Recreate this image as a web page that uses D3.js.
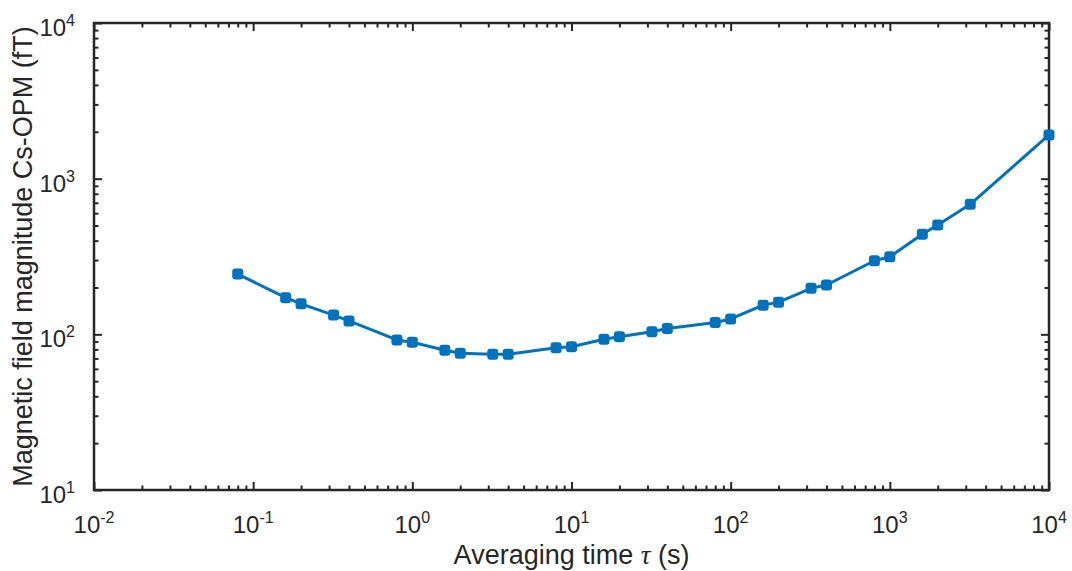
<!DOCTYPE html>
<html>
<head>
<meta charset="utf-8">
<script src="https://cdn.jsdelivr.net/npm/d3@7"></script>
<style>
  body { margin: 0; background: #fff; }
  text { font-family: "Liberation Sans", Arial, sans-serif; fill: #262626; }
</style>
</head>
<body>
<script>
'use strict';

// Data =======================
// averaging time tau (s)
var tau = [0.08, 0.16, 0.2, 0.32, 0.4, 0.8, 1, 1.6, 2, 3.2, 4, 8, 10, 16, 20, 32, 40,
  80, 100, 160, 200, 320, 400, 800, 1000, 1600, 2000, 3200, 10000];
// field magnitude (fT)
var magnitude = [244, 172, 157, 133, 122, 92, 89, 79, 75.5, 74.4, 74.4, 82, 83.3, 93, 96.6,
  104, 109, 119, 125.5, 154, 161, 197.6, 207.5, 297, 315, 439, 504, 684, 1908];

var xDecades = [-2, -1, 0, 1, 2, 3, 4];
var yDecades = [1, 2, 3, 4];

//Sizing things.
var width = 1072, height = 571;
var margin = {left: 94, top: 23, right: 23, bottom: 81};
var plotW = width - margin.left - margin.right;
var plotH = height - margin.top - margin.bottom;
var axisColor = '#262626';
var lineColor = '#0072BD';

var svg = d3.select('body').append('svg')
  .attr('width', width)
  .attr('height', height);

var g = svg.append('g')
  .attr('transform', 'translate(' + margin.left + ',' + margin.top + ')');

var x = d3.scaleLog().domain([1e-2, 1e4]).range([0, plotW]);
var y = d3.scaleLog().domain([1e1, 1e4]).range([plotH, 0]);

var majorX = xDecades.map(function (e) { return Math.pow(10, e); });
var majorY = yDecades.map(function (e) { return Math.pow(10, e); });

// minor ticks 2..9 in each decade
function minors(decades) {
  var out = [];
  for (var i = 0; i < decades.length - 1; i++) {
    for (var k = 2; k <= 9; k++) out.push(k * Math.pow(10, decades[i]));
  }
  return out;
}

// draw one set of inward ticks
function ticks(axisFn, scale, values, len, transform) {
  var a = g.append('g')
    .attr('transform', transform)
    .call(axisFn(scale).tickValues(values).tickSizeInner(-len).tickSizeOuter(0).tickFormat(''));
  a.select('.domain').remove();
  a.selectAll('line').attr('stroke', axisColor).attr('stroke-width', 2);
  return a;
}

ticks(d3.axisBottom, x, majorX, 8, 'translate(0,' + plotH + ')');
ticks(d3.axisBottom, x, minors(xDecades), 4.5, 'translate(0,' + plotH + ')');
ticks(d3.axisTop, x, majorX, 8, 'translate(0,0)');
ticks(d3.axisTop, x, minors(xDecades), 4.5, 'translate(0,0)');
ticks(d3.axisLeft, y, majorY, 8, 'translate(0,0)');
ticks(d3.axisLeft, y, minors(yDecades), 4.5, 'translate(0,0)');
ticks(d3.axisRight, y, majorY, 8, 'translate(' + plotW + ',0)');
ticks(d3.axisRight, y, minors(yDecades), 4.5, 'translate(' + plotW + ',0)');

// box
g.append('rect')
  .attr('width', plotW)
  .attr('height', plotH)
  .attr('fill', 'none')
  .attr('stroke', axisColor)
  .attr('stroke-width', 2.5);

// tick labels as 10^n
function powLabel(sel, exp) {
  sel.append('tspan').text('10');
  sel.append('tspan')
    .attr('dy', -10)
    .style('font-size', '16px')
    .text(exp);
}

g.selectAll('.xlab')
  .data(xDecades)
  .enter().append('text')
  .attr('class', 'xlab')
  .attr('x', function (d) { return x(Math.pow(10, d)); })
  .attr('y', plotH + 43)
  .attr('text-anchor', 'middle')
  .style('font-size', '24px')
  .each(function (d) { powLabel(d3.select(this), d); });

g.selectAll('.ylab')
  .data(yDecades)
  .enter().append('text')
  .attr('class', 'ylab')
  .attr('x', -19)
  .attr('y', function (d) { return y(Math.pow(10, d)) + 13; })
  .attr('text-anchor', 'end')
  .style('font-size', '24px')
  .each(function (d) { powLabel(d3.select(this), d); });

// axis titles
var xTitle = svg.append('text')
  .attr('x', margin.left + plotW / 2)
  .attr('y', 564)
  .attr('text-anchor', 'middle')
  .style('font-size', '27px');
xTitle.append('tspan').text('Averaging time ');
xTitle.append('tspan')
  .style('font-family', '"Liberation Serif", "DejaVu Serif", serif')
  .style('font-style', 'italic')
  .text('τ');
xTitle.append('tspan').text(' (s)');

svg.append('text')
  .attr('transform', 'translate(32,' + (margin.top + plotH / 2) + ') rotate(-90)')
  .attr('text-anchor', 'middle')
  .style('font-size', '27px')
  .text('Magnetic field magnitude Cs-OPM (fT)');

// data line + markers
var pts = tau.map(function (t, i) { return [t, magnitude[i]]; });

g.append('path')
  .datum(pts)
  .attr('fill', 'none')
  .attr('stroke', lineColor)
  .attr('stroke-width', 3)
  .attr('stroke-linejoin', 'round')
  .attr('d', d3.line()
    .x(function (d) { return x(d[0]); })
    .y(function (d) { return y(d[1]); }));

var ms = 11;
g.selectAll('.marker')
  .data(pts)
  .enter().append('rect')
  .attr('class', 'marker')
  .attr('x', function (d) { return x(d[0]) - ms / 2; })
  .attr('y', function (d) { return y(d[1]) - ms / 2; })
  .attr('width', ms)
  .attr('height', ms)
  .attr('rx', 3)
  .attr('fill', lineColor);
</script>
</body>
</html>
